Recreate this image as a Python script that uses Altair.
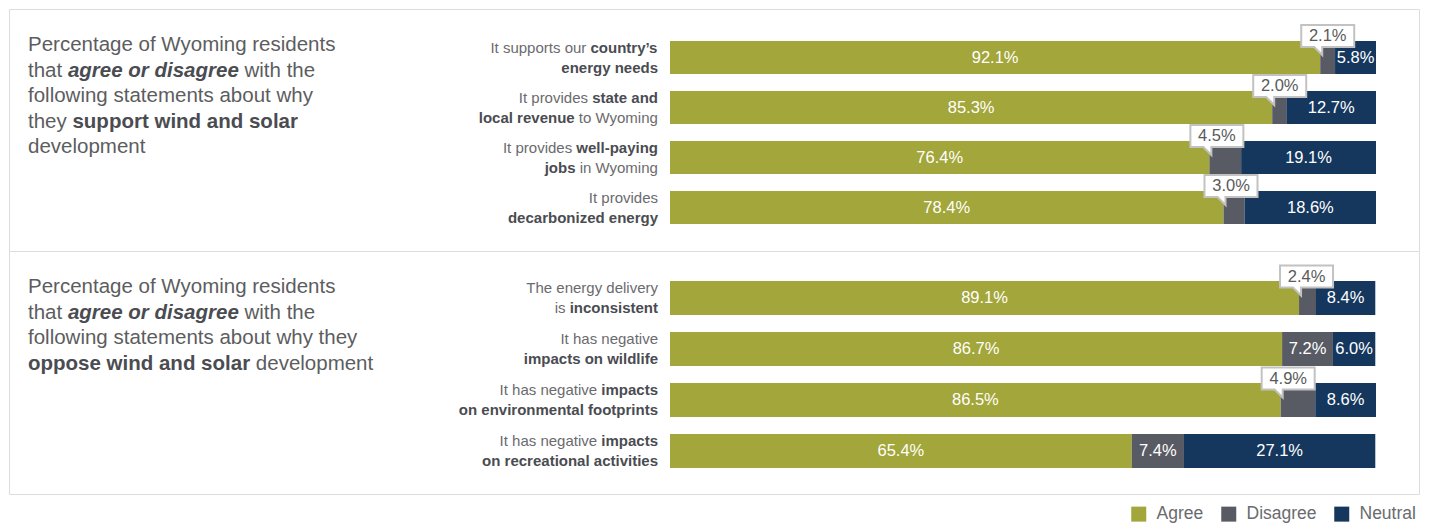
import re
import altair as alt
import pandas as pd

# ---------------- data ----------------
responses = ["Agree", "Disagree", "Neutral"]
response_colors = ["#a3a63a", "#585b63", "#15375e"]

support_title = ("Percentage of Wyoming residents\n"
                 "that ***agree or disagree*** with the\n"
                 "following statements about why\n"
                 "they **support wind and solar**\n"
                 "development")
support_labels = [
    "It supports our **country’s**\n**energy needs**",
    "It provides **state and**\n**local revenue** to Wyoming",
    "It provides **well-paying**\n**jobs** in Wyoming",
    "It provides\n**decarbonized energy**",
]
support_agree = [92.1, 85.3, 76.4, 78.4]
support_disagree = [2.1, 2.0, 4.5, 3.0]
support_neutral = [5.8, 12.7, 19.1, 18.6]

oppose_title = ("Percentage of Wyoming residents\n"
                "that ***agree or disagree*** with the\n"
                "following statements about why they\n"
                "**oppose wind and solar** development")
oppose_labels = [
    "The energy delivery\nis **inconsistent**",
    "It has negative\n**impacts on wildlife**",
    "It has negative **impacts**\n**on environmental footprints**",
    "It has negative **impacts**\n**on recreational activities**",
]
oppose_agree = [89.1, 86.7, 86.5, 65.4]
oppose_disagree = [2.4, 7.2, 4.9, 7.4]
oppose_neutral = [8.4, 6.0, 8.6, 27.1]

# ---------------- layout / style ----------------
FONT = "Liberation Sans"
PANEL_W = 1410
BAR_LEFT, BAR_RIGHT = 661, 1367
LABEL_RIGHT = 649
LABEL_SIZE = 15
LABEL_STEP = 20
TITLE_LEFT, TITLE_TOP, TITLE_STEP, TITLE_SIZE = 19, 36, 25.5, 20.5
REG_COLOR, BOLD_COLOR = "#6a6b6e", "#4a4c51"
TITLE_COLOR = "#5c5d60"
CALLOUT_LIMIT = 5.0
BUBBLE = "M-19,-32.5H34V-10.5H2V-2.5L-6,-10.5H-19Z"

# Arial / Liberation Sans advance widths (1/1000 em)
REG_W = dict(zip("abcdefghijklmnopqrstuvwxyz",
                 [556, 556, 500, 556, 556, 278, 556, 556, 222, 222, 500, 222, 833,
                  556, 556, 556, 556, 333, 500, 278, 556, 500, 722, 500, 500, 500]))
REG_W.update(dict(zip("ABCDEFGHIJKLMNOPQRSTUVWXYZ",
                      [667, 667, 722, 722, 667, 611, 778, 722, 278, 500, 667, 556, 833,
                       722, 778, 667, 778, 722, 667, 611, 722, 667, 944, 667, 667, 611])))
REG_W.update({" ": 278, "'": 191, "’": 222, "-": 333, ".": 278, "%": 889})
BOLD_W = dict(zip("abcdefghijklmnopqrstuvwxyz",
                  [556, 611, 556, 611, 556, 333, 611, 611, 278, 278, 556, 278, 889,
                   611, 611, 611, 611, 389, 556, 333, 611, 556, 778, 556, 556, 500]))
BOLD_W.update(dict(zip("ABCDEFGHIJKLMNOPQRSTUVWXYZ",
                       [722, 722, 722, 722, 667, 611, 778, 722, 278, 556, 722, 611, 833,
                        722, 778, 667, 778, 722, 667, 611, 722, 667, 944, 667, 667, 611])))
BOLD_W.update({" ": 278, "'": 238, "’": 278, "-": 333, ".": 278, "%": 889})


def text_width(s, style, size):
    table = REG_W if style == "regular" else BOLD_W
    return sum(table.get(c, 556) for c in s) / 1000.0 * size


def parse_line(line):
    segs = []
    for p in re.split(r"(\*\*\*.+?\*\*\*|\*\*.+?\*\*)", line):
        if not p:
            continue
        if p.startswith("***"):
            segs.append((p[3:-3], "bolditalic"))
        elif p.startswith("**"):
            segs.append((p[2:-2], "bold"))
        else:
            segs.append((p, "regular"))
    return segs


def layout_line(line, size, left=None, right=None):
    segs = parse_line(line)
    widths = [text_width(t, st, size) for t, st in segs]
    last_t, last_st = segs[-1]
    trailing = len(last_t) - len(last_t.rstrip())
    total = sum(widths) - text_width(" " * trailing, last_st, size)
    x = left if left is not None else right - total
    out = []
    for (t, st), w in zip(segs, widths):
        lead = len(t) - len(t.lstrip())
        if t.strip():
            out.append({"text": t.strip(), "style": st,
                        "px": x + text_width(" " * lead, st, size)})
        x += w
    return out


def plain(label):
    return label.replace("**", "").replace("\n", " ")


STYLE_PROPS = {
    "regular": dict(color=REG_COLOR),
    "bold": dict(color=BOLD_COLOR, fontWeight="bold"),
    "bolditalic": dict(color=BOLD_COLOR, fontWeight="bold", fontStyle="italic"),
}

legend = alt.Legend(orient="none", legendX=1121, legendY=496, direction="horizontal",
                    title=None, symbolType="square", symbolSize=225, symbolStrokeWidth=0,
                    labelFontSize=17.5, labelFont=FONT, labelColor="#6a6b6e",
                    labelOffset=9, columnPadding=16, padding=0, labelLimit=200)


def panel(title, labels, agree, disagree, neutral, height, y_range, pad_inner):
    keys = [plain(l) for l in labels]
    xscale = alt.Scale(domain=[0, 100], range=[BAR_LEFT, BAR_RIGHT])
    yscale = alt.Scale(domain=keys, range=y_range, paddingInner=pad_inner,
                       paddingOuter=pad_inner / 2)
    y_enc = alt.Y("statement:N", scale=yscale, axis=None)

    rows = []
    for k, a, d, n in zip(keys, agree, disagree, neutral):
        start = 0.0
        for r, v in zip(responses, [a, d, n]):
            rows.append({"statement": k, "response": r, "value": v,
                         "start": start, "end": start + v, "mid": start + v / 2,
                         "label": f"{v:.1f}%",
                         "callout": (r == "Disagree" and v < CALLOUT_LIMIT)})
            start += v
    seg = pd.DataFrame(rows)

    bars = alt.Chart(seg).mark_bar().encode(
        x=alt.X("start:Q", scale=xscale, axis=None),
        x2="end:Q",
        y=y_enc,
        color=alt.Color("response:N",
                        scale=alt.Scale(domain=responses, range=response_colors),
                        legend=legend),
    )
    inline = alt.Chart(seg[~seg["callout"]]).mark_text(
        color="white", font=FONT, fontSize=16.5, baseline="middle", align="center"
    ).encode(x=alt.X("mid:Q", scale=xscale, axis=None), y=y_enc, text="label:N")

    call = seg[seg["callout"]]
    bubble = alt.Chart(call).mark_point(
        shape=BUBBLE, size=4, filled=True, fill="white", opacity=1,
        stroke="#c2c2c2", strokeWidth=2
    ).encode(x=alt.X("start:Q", scale=xscale, axis=None), y=y_enc)
    bubble_text = alt.Chart(call).mark_text(
        color="#5a5a5a", font=FONT, fontSize=16.5, baseline="middle", align="center",
        dx=7.5, dy=-21.5
    ).encode(x=alt.X("start:Q", scale=xscale, axis=None), y=y_enc, text="label:N")

    layers = [bars, inline, bubble, bubble_text]

    # statement labels (right aligned, mixed weight)
    lab_rows = []
    for k, l in zip(keys, labels):
        lines = l.split("\n")
        for j, line in enumerate(lines):
            for s in layout_line(line, LABEL_SIZE, right=LABEL_RIGHT):
                s.update(statement=k, line=j, n=len(lines))
                lab_rows.append(s)
    lab = pd.DataFrame(lab_rows)
    for st, props in STYLE_PROPS.items():
        for j in sorted(lab["line"].unique()):
            sub = lab[(lab["style"] == st) & (lab["line"] == j)]
            if sub.empty:
                continue
            layers.append(alt.Chart(sub).mark_text(
                font=FONT, fontSize=LABEL_SIZE, align="left", baseline="middle",
                dy=(j - 0.5) * LABEL_STEP, **props
            ).encode(x=alt.X("px:Q", scale=None, axis=None), y=y_enc, text="text:N"))

    # panel title (left block)
    t_rows = []
    for j, line in enumerate(title.split("\n")):
        for s in layout_line(line, TITLE_SIZE, left=TITLE_LEFT):
            s.update(py=TITLE_TOP + j * TITLE_STEP)
            t_rows.append(s)
    tdf = pd.DataFrame(t_rows)
    for st, props in STYLE_PROPS.items():
        sub = tdf[tdf["style"] == st]
        if sub.empty:
            continue
        p = dict(props)
        if st == "regular":
            p["color"] = TITLE_COLOR
        layers.append(alt.Chart(sub).mark_text(
            font=FONT, fontSize=TITLE_SIZE, align="left", baseline="middle", **p
        ).encode(x=alt.X("px:Q", scale=None, axis=None),
                 y=alt.Y("py:Q", scale=None, axis=None), text="text:N"))

    return alt.layer(*layers).properties(width=PANEL_W, height=height)


top = panel(support_title, support_labels, support_agree, support_disagree,
            support_neutral, 242, [23.5, 223.5], 0.34)
bottom = panel(oppose_title, oppose_labels, oppose_agree, oppose_disagree,
               oppose_neutral, 243, [21.5, 225.5], 1 / 3)

chart = alt.vconcat(top, bottom, spacing=0, bounds="flush").properties(
    padding=0
).configure_view(
    stroke="#c6c6c6", strokeWidth=1.5
).configure(font=FONT)

chart.save("out.html", embed_options={"renderer": "svg", "actions": False})
